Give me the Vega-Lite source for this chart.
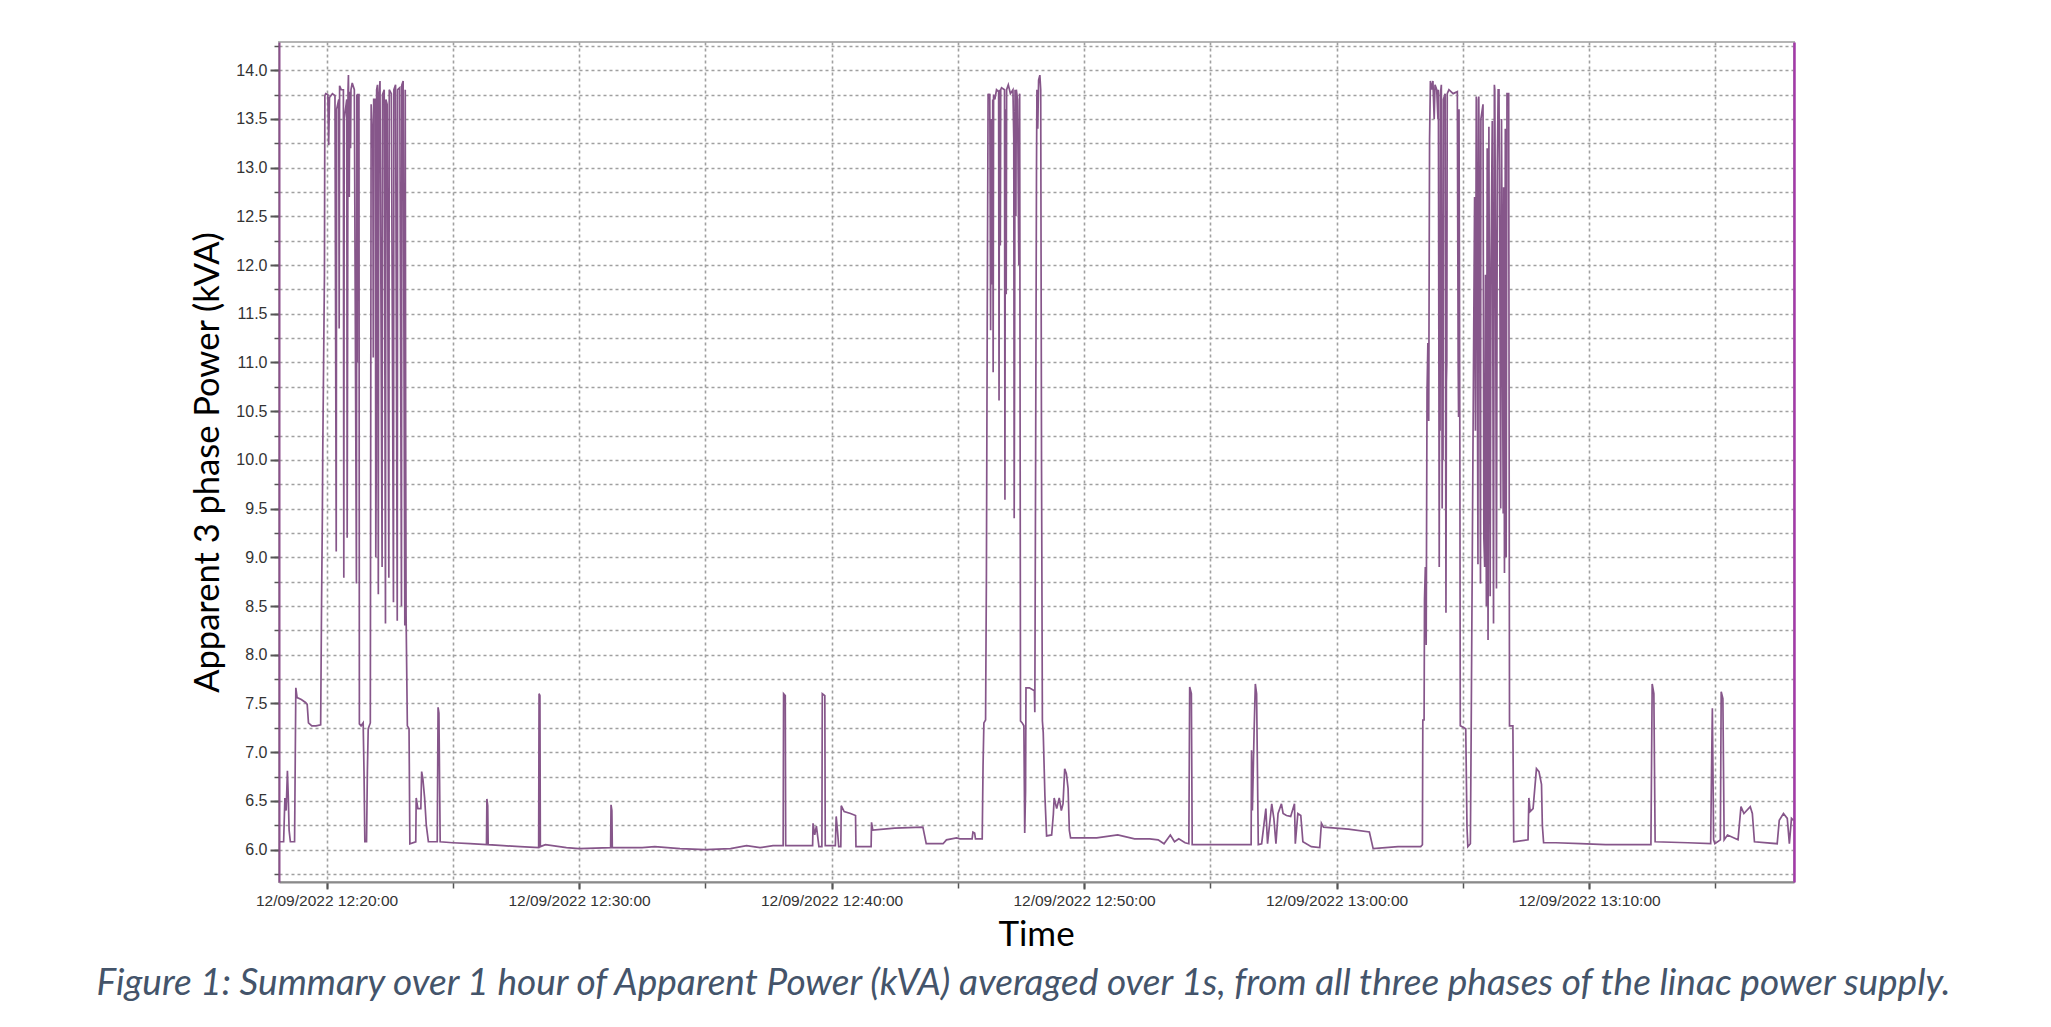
{
  "$schema": "https://vega.github.io/schema/vega-lite/v6.json",
  "description": "Apparent 3 phase power of the linac supply over one hour, 1 s averages.",
  "width": 1515,
  "height": 840,
  "autosize": {"type": "none"},
  "padding": {"left": 279, "top": 42, "right": 257, "bottom": 145},
  "background": "white",
  "title": {
    "text": "Figure 1: Summary over 1 hour of Apparent Power (kVA) averaged over 1s, from all three phases of the linac power supply.",
    "orient": "bottom",
    "anchor": "middle",
    "offset": 14,
    "dx": -13,
    "font": "Lato",
    "fontStyle": "italic",
    "fontWeight": "normal",
    "fontSize": 37,
    "color": "#44546a"
  },
  "datasets": {
    "power": [
      {"time": "2022-09-12T12:18:07", "kva": 6.08},
      {"time": "2022-09-12T12:18:18", "kva": 6.08},
      {"time": "2022-09-12T12:18:21", "kva": 6.53},
      {"time": "2022-09-12T12:18:24", "kva": 6.4},
      {"time": "2022-09-12T12:18:27", "kva": 6.81},
      {"time": "2022-09-12T12:18:29", "kva": 6.55},
      {"time": "2022-09-12T12:18:31", "kva": 6.2},
      {"time": "2022-09-12T12:18:34", "kva": 6.08},
      {"time": "2022-09-12T12:18:44", "kva": 6.08},
      {"time": "2022-09-12T12:18:47", "kva": 7.66},
      {"time": "2022-09-12T12:18:50", "kva": 7.56},
      {"time": "2022-09-12T12:19:00", "kva": 7.54},
      {"time": "2022-09-12T12:19:10", "kva": 7.51},
      {"time": "2022-09-12T12:19:14", "kva": 7.49},
      {"time": "2022-09-12T12:19:17", "kva": 7.3},
      {"time": "2022-09-12T12:19:25", "kva": 7.27},
      {"time": "2022-09-12T12:19:35", "kva": 7.27},
      {"time": "2022-09-12T12:19:46", "kva": 7.28},
      {"time": "2022-09-12T12:19:48", "kva": 8.46},
      {"time": "2022-09-12T12:19:50", "kva": 9.4},
      {"time": "2022-09-12T12:19:51", "kva": 10.1},
      {"time": "2022-09-12T12:19:53", "kva": 11.0},
      {"time": "2022-09-12T12:19:55", "kva": 11.9},
      {"time": "2022-09-12T12:19:56", "kva": 13.74},
      {"time": "2022-09-12T12:19:58", "kva": 13.76},
      {"time": "2022-09-12T12:20:03", "kva": 13.75},
      {"time": "2022-09-12T12:20:05", "kva": 13.23},
      {"time": "2022-09-12T12:20:07", "kva": 13.72},
      {"time": "2022-09-12T12:20:14", "kva": 13.76},
      {"time": "2022-09-12T12:20:20", "kva": 13.74},
      {"time": "2022-09-12T12:20:23", "kva": 9.06},
      {"time": "2022-09-12T12:20:24", "kva": 13.6},
      {"time": "2022-09-12T12:20:29", "kva": 13.7},
      {"time": "2022-09-12T12:20:30", "kva": 11.35},
      {"time": "2022-09-12T12:20:31", "kva": 13.84},
      {"time": "2022-09-12T12:20:35", "kva": 13.8},
      {"time": "2022-09-12T12:20:40", "kva": 13.8},
      {"time": "2022-09-12T12:20:41", "kva": 8.79},
      {"time": "2022-09-12T12:20:42", "kva": 13.5},
      {"time": "2022-09-12T12:20:48", "kva": 13.7},
      {"time": "2022-09-12T12:20:49", "kva": 9.2},
      {"time": "2022-09-12T12:20:50", "kva": 11.3},
      {"time": "2022-09-12T12:20:51", "kva": 13.8},
      {"time": "2022-09-12T12:20:52", "kva": 13.95},
      {"time": "2022-09-12T12:20:54", "kva": 12.7},
      {"time": "2022-09-12T12:20:55", "kva": 13.78},
      {"time": "2022-09-12T12:20:57", "kva": 13.2},
      {"time": "2022-09-12T12:20:58", "kva": 13.8},
      {"time": "2022-09-12T12:21:01", "kva": 13.87},
      {"time": "2022-09-12T12:21:06", "kva": 13.8},
      {"time": "2022-09-12T12:21:11", "kva": 8.73},
      {"time": "2022-09-12T12:21:12", "kva": 13.75},
      {"time": "2022-09-12T12:21:13", "kva": 11.0},
      {"time": "2022-09-12T12:21:14", "kva": 13.75},
      {"time": "2022-09-12T12:21:17", "kva": 13.75},
      {"time": "2022-09-12T12:21:18", "kva": 7.29},
      {"time": "2022-09-12T12:21:22", "kva": 7.27},
      {"time": "2022-09-12T12:21:27", "kva": 7.3},
      {"time": "2022-09-12T12:21:29", "kva": 6.8},
      {"time": "2022-09-12T12:21:31", "kva": 6.08},
      {"time": "2022-09-12T12:21:35", "kva": 6.08},
      {"time": "2022-09-12T12:21:37", "kva": 6.8},
      {"time": "2022-09-12T12:21:39", "kva": 7.24},
      {"time": "2022-09-12T12:21:44", "kva": 7.3},
      {"time": "2022-09-12T12:21:46", "kva": 13.65},
      {"time": "2022-09-12T12:21:50", "kva": 13.2},
      {"time": "2022-09-12T12:21:51", "kva": 11.05},
      {"time": "2022-09-12T12:21:52", "kva": 13.7},
      {"time": "2022-09-12T12:21:56", "kva": 13.7},
      {"time": "2022-09-12T12:21:57", "kva": 9.0},
      {"time": "2022-09-12T12:21:58", "kva": 9.9},
      {"time": "2022-09-12T12:21:59", "kva": 13.8},
      {"time": "2022-09-12T12:22:01", "kva": 13.85},
      {"time": "2022-09-12T12:22:03", "kva": 8.62},
      {"time": "2022-09-12T12:22:04", "kva": 13.7},
      {"time": "2022-09-12T12:22:07", "kva": 13.89},
      {"time": "2022-09-12T12:22:12", "kva": 8.9},
      {"time": "2022-09-12T12:22:13", "kva": 13.75},
      {"time": "2022-09-12T12:22:17", "kva": 13.8},
      {"time": "2022-09-12T12:22:20", "kva": 8.32},
      {"time": "2022-09-12T12:22:21", "kva": 13.7},
      {"time": "2022-09-12T12:22:24", "kva": 13.65},
      {"time": "2022-09-12T12:22:28", "kva": 8.79},
      {"time": "2022-09-12T12:22:29", "kva": 13.8},
      {"time": "2022-09-12T12:22:34", "kva": 13.76},
      {"time": "2022-09-12T12:22:39", "kva": 8.54},
      {"time": "2022-09-12T12:22:40", "kva": 13.8},
      {"time": "2022-09-12T12:22:44", "kva": 13.85},
      {"time": "2022-09-12T12:22:48", "kva": 8.35},
      {"time": "2022-09-12T12:22:49", "kva": 13.8},
      {"time": "2022-09-12T12:22:54", "kva": 13.82},
      {"time": "2022-09-12T12:22:58", "kva": 8.5},
      {"time": "2022-09-12T12:22:59", "kva": 13.85},
      {"time": "2022-09-12T12:23:02", "kva": 13.89},
      {"time": "2022-09-12T12:23:06", "kva": 8.3},
      {"time": "2022-09-12T12:23:07", "kva": 13.8},
      {"time": "2022-09-12T12:23:08", "kva": 10.3},
      {"time": "2022-09-12T12:23:09", "kva": 8.4},
      {"time": "2022-09-12T12:23:12", "kva": 7.27},
      {"time": "2022-09-12T12:23:16", "kva": 7.24},
      {"time": "2022-09-12T12:23:18", "kva": 6.06},
      {"time": "2022-09-12T12:23:32", "kva": 6.08},
      {"time": "2022-09-12T12:23:33", "kva": 6.53},
      {"time": "2022-09-12T12:23:37", "kva": 6.42},
      {"time": "2022-09-12T12:23:44", "kva": 6.42},
      {"time": "2022-09-12T12:23:46", "kva": 6.8},
      {"time": "2022-09-12T12:23:49", "kva": 6.72},
      {"time": "2022-09-12T12:23:53", "kva": 6.53},
      {"time": "2022-09-12T12:23:57", "kva": 6.25},
      {"time": "2022-09-12T12:24:02", "kva": 6.08},
      {"time": "2022-09-12T12:24:23", "kva": 6.08},
      {"time": "2022-09-12T12:24:25", "kva": 7.46},
      {"time": "2022-09-12T12:24:27", "kva": 7.4},
      {"time": "2022-09-12T12:24:30", "kva": 6.08},
      {"time": "2022-09-12T12:25:00", "kva": 6.07},
      {"time": "2022-09-12T12:25:41", "kva": 6.06},
      {"time": "2022-09-12T12:26:20", "kva": 6.05},
      {"time": "2022-09-12T12:26:21", "kva": 6.52},
      {"time": "2022-09-12T12:26:23", "kva": 6.45},
      {"time": "2022-09-12T12:26:24", "kva": 6.05},
      {"time": "2022-09-12T12:27:00", "kva": 6.04},
      {"time": "2022-09-12T12:27:40", "kva": 6.03},
      {"time": "2022-09-12T12:28:24", "kva": 6.02},
      {"time": "2022-09-12T12:28:25", "kva": 7.6},
      {"time": "2022-09-12T12:28:27", "kva": 7.58},
      {"time": "2022-09-12T12:28:28", "kva": 6.03},
      {"time": "2022-09-12T12:28:40", "kva": 6.05},
      {"time": "2022-09-12T12:29:30", "kva": 6.02},
      {"time": "2022-09-12T12:30:00", "kva": 6.01},
      {"time": "2022-09-12T12:31:15", "kva": 6.02},
      {"time": "2022-09-12T12:31:16", "kva": 6.46},
      {"time": "2022-09-12T12:31:18", "kva": 6.4},
      {"time": "2022-09-12T12:31:19", "kva": 6.02},
      {"time": "2022-09-12T12:32:30", "kva": 6.02},
      {"time": "2022-09-12T12:33:00", "kva": 6.03},
      {"time": "2022-09-12T12:34:00", "kva": 6.01},
      {"time": "2022-09-12T12:35:00", "kva": 6.0},
      {"time": "2022-09-12T12:36:00", "kva": 6.01},
      {"time": "2022-09-12T12:36:38", "kva": 6.04},
      {"time": "2022-09-12T12:37:10", "kva": 6.02},
      {"time": "2022-09-12T12:37:41", "kva": 6.04},
      {"time": "2022-09-12T12:38:05", "kva": 6.04},
      {"time": "2022-09-12T12:38:06", "kva": 7.6},
      {"time": "2022-09-12T12:38:10", "kva": 7.58},
      {"time": "2022-09-12T12:38:11", "kva": 6.04},
      {"time": "2022-09-12T12:38:40", "kva": 6.04},
      {"time": "2022-09-12T12:39:15", "kva": 6.04},
      {"time": "2022-09-12T12:39:16", "kva": 6.27},
      {"time": "2022-09-12T12:39:20", "kva": 6.15},
      {"time": "2022-09-12T12:39:24", "kva": 6.24},
      {"time": "2022-09-12T12:39:30", "kva": 6.03},
      {"time": "2022-09-12T12:39:37", "kva": 6.03},
      {"time": "2022-09-12T12:39:38", "kva": 7.6},
      {"time": "2022-09-12T12:39:44", "kva": 7.58},
      {"time": "2022-09-12T12:39:45", "kva": 6.04},
      {"time": "2022-09-12T12:40:09", "kva": 6.04},
      {"time": "2022-09-12T12:40:11", "kva": 6.34},
      {"time": "2022-09-12T12:40:14", "kva": 6.2},
      {"time": "2022-09-12T12:40:17", "kva": 6.03},
      {"time": "2022-09-12T12:40:22", "kva": 6.03},
      {"time": "2022-09-12T12:40:23", "kva": 6.45},
      {"time": "2022-09-12T12:40:30", "kva": 6.39},
      {"time": "2022-09-12T12:40:45", "kva": 6.37},
      {"time": "2022-09-12T12:40:57", "kva": 6.35},
      {"time": "2022-09-12T12:40:58", "kva": 6.03},
      {"time": "2022-09-12T12:41:34", "kva": 6.03},
      {"time": "2022-09-12T12:41:35", "kva": 6.28},
      {"time": "2022-09-12T12:41:38", "kva": 6.2},
      {"time": "2022-09-12T12:42:30", "kva": 6.22},
      {"time": "2022-09-12T12:43:37", "kva": 6.23},
      {"time": "2022-09-12T12:43:45", "kva": 6.06},
      {"time": "2022-09-12T12:44:25", "kva": 6.06},
      {"time": "2022-09-12T12:44:33", "kva": 6.1},
      {"time": "2022-09-12T12:44:57", "kva": 6.12},
      {"time": "2022-09-12T12:45:05", "kva": 6.11},
      {"time": "2022-09-12T12:45:34", "kva": 6.11},
      {"time": "2022-09-12T12:45:36", "kva": 6.18},
      {"time": "2022-09-12T12:45:40", "kva": 6.17},
      {"time": "2022-09-12T12:45:42", "kva": 6.11},
      {"time": "2022-09-12T12:45:58", "kva": 6.11},
      {"time": "2022-09-12T12:46:00", "kva": 6.86},
      {"time": "2022-09-12T12:46:02", "kva": 7.3},
      {"time": "2022-09-12T12:46:06", "kva": 7.33},
      {"time": "2022-09-12T12:46:08", "kva": 8.84},
      {"time": "2022-09-12T12:46:10", "kva": 11.5},
      {"time": "2022-09-12T12:46:12", "kva": 13.76},
      {"time": "2022-09-12T12:46:14", "kva": 13.72},
      {"time": "2022-09-12T12:46:16", "kva": 13.76},
      {"time": "2022-09-12T12:46:18", "kva": 11.33},
      {"time": "2022-09-12T12:46:19", "kva": 13.5},
      {"time": "2022-09-12T12:46:21", "kva": 12.5},
      {"time": "2022-09-12T12:46:22", "kva": 11.8},
      {"time": "2022-09-12T12:46:23", "kva": 13.7},
      {"time": "2022-09-12T12:46:24", "kva": 10.9},
      {"time": "2022-09-12T12:46:25", "kva": 13.75},
      {"time": "2022-09-12T12:46:28", "kva": 13.7},
      {"time": "2022-09-12T12:46:32", "kva": 13.8},
      {"time": "2022-09-12T12:46:37", "kva": 13.78},
      {"time": "2022-09-12T12:46:38", "kva": 10.61},
      {"time": "2022-09-12T12:46:39", "kva": 13.8},
      {"time": "2022-09-12T12:46:41", "kva": 12.2},
      {"time": "2022-09-12T12:46:42", "kva": 13.8},
      {"time": "2022-09-12T12:46:44", "kva": 13.82},
      {"time": "2022-09-12T12:46:51", "kva": 13.8},
      {"time": "2022-09-12T12:46:52", "kva": 9.59},
      {"time": "2022-09-12T12:46:53", "kva": 13.6},
      {"time": "2022-09-12T12:46:55", "kva": 11.7},
      {"time": "2022-09-12T12:46:56", "kva": 13.8},
      {"time": "2022-09-12T12:47:00", "kva": 13.85},
      {"time": "2022-09-12T12:47:05", "kva": 13.76},
      {"time": "2022-09-12T12:47:11", "kva": 13.8},
      {"time": "2022-09-12T12:47:13", "kva": 13.3},
      {"time": "2022-09-12T12:47:14", "kva": 9.4},
      {"time": "2022-09-12T12:47:15", "kva": 11.0},
      {"time": "2022-09-12T12:47:16", "kva": 13.8},
      {"time": "2022-09-12T12:47:18", "kva": 12.5},
      {"time": "2022-09-12T12:47:19", "kva": 13.8},
      {"time": "2022-09-12T12:47:22", "kva": 13.7},
      {"time": "2022-09-12T12:47:25", "kva": 12.0},
      {"time": "2022-09-12T12:47:27", "kva": 13.76},
      {"time": "2022-09-12T12:47:29", "kva": 7.32},
      {"time": "2022-09-12T12:47:33", "kva": 7.3},
      {"time": "2022-09-12T12:47:37", "kva": 7.27},
      {"time": "2022-09-12T12:47:39", "kva": 6.17},
      {"time": "2022-09-12T12:47:41", "kva": 6.6},
      {"time": "2022-09-12T12:47:42", "kva": 7.66},
      {"time": "2022-09-12T12:47:50", "kva": 7.66},
      {"time": "2022-09-12T12:48:02", "kva": 7.63},
      {"time": "2022-09-12T12:48:03", "kva": 7.41},
      {"time": "2022-09-12T12:48:05", "kva": 10.1},
      {"time": "2022-09-12T12:48:07", "kva": 13.0},
      {"time": "2022-09-12T12:48:08", "kva": 13.8},
      {"time": "2022-09-12T12:48:10", "kva": 13.4},
      {"time": "2022-09-12T12:48:12", "kva": 13.9},
      {"time": "2022-09-12T12:48:15", "kva": 13.95},
      {"time": "2022-09-12T12:48:17", "kva": 13.8},
      {"time": "2022-09-12T12:48:19", "kva": 9.89},
      {"time": "2022-09-12T12:48:21", "kva": 7.32},
      {"time": "2022-09-12T12:48:23", "kva": 7.2},
      {"time": "2022-09-12T12:48:27", "kva": 6.55},
      {"time": "2022-09-12T12:48:31", "kva": 6.14},
      {"time": "2022-09-12T12:48:43", "kva": 6.15},
      {"time": "2022-09-12T12:48:47", "kva": 6.36},
      {"time": "2022-09-12T12:48:49", "kva": 6.53},
      {"time": "2022-09-12T12:48:55", "kva": 6.42},
      {"time": "2022-09-12T12:49:01", "kva": 6.53},
      {"time": "2022-09-12T12:49:06", "kva": 6.4},
      {"time": "2022-09-12T12:49:10", "kva": 6.47},
      {"time": "2022-09-12T12:49:14", "kva": 6.83},
      {"time": "2022-09-12T12:49:18", "kva": 6.78},
      {"time": "2022-09-12T12:49:22", "kva": 6.63},
      {"time": "2022-09-12T12:49:25", "kva": 6.2},
      {"time": "2022-09-12T12:49:28", "kva": 6.12},
      {"time": "2022-09-12T12:50:30", "kva": 6.12},
      {"time": "2022-09-12T12:51:20", "kva": 6.15},
      {"time": "2022-09-12T12:52:00", "kva": 6.11},
      {"time": "2022-09-12T12:52:36", "kva": 6.11},
      {"time": "2022-09-12T12:52:56", "kva": 6.1},
      {"time": "2022-09-12T12:53:10", "kva": 6.06},
      {"time": "2022-09-12T12:53:25", "kva": 6.15},
      {"time": "2022-09-12T12:53:35", "kva": 6.08},
      {"time": "2022-09-12T12:53:45", "kva": 6.11},
      {"time": "2022-09-12T12:54:00", "kva": 6.07},
      {"time": "2022-09-12T12:54:09", "kva": 6.06},
      {"time": "2022-09-12T12:54:11", "kva": 7.67},
      {"time": "2022-09-12T12:54:15", "kva": 7.6},
      {"time": "2022-09-12T12:54:17", "kva": 6.05},
      {"time": "2022-09-12T12:55:30", "kva": 6.05},
      {"time": "2022-09-12T12:56:37", "kva": 6.05},
      {"time": "2022-09-12T12:56:38", "kva": 7.02},
      {"time": "2022-09-12T12:56:40", "kva": 6.4},
      {"time": "2022-09-12T12:56:44", "kva": 7.2},
      {"time": "2022-09-12T12:56:47", "kva": 7.7},
      {"time": "2022-09-12T12:56:50", "kva": 7.6},
      {"time": "2022-09-12T12:56:54", "kva": 6.05},
      {"time": "2022-09-12T12:57:02", "kva": 6.06},
      {"time": "2022-09-12T12:57:12", "kva": 6.42},
      {"time": "2022-09-12T12:57:16", "kva": 6.06},
      {"time": "2022-09-12T12:57:26", "kva": 6.47},
      {"time": "2022-09-12T12:57:31", "kva": 6.32},
      {"time": "2022-09-12T12:57:36", "kva": 6.06},
      {"time": "2022-09-12T12:57:41", "kva": 6.37},
      {"time": "2022-09-12T12:57:49", "kva": 6.47},
      {"time": "2022-09-12T12:57:53", "kva": 6.37},
      {"time": "2022-09-12T12:58:01", "kva": 6.35},
      {"time": "2022-09-12T12:58:11", "kva": 6.34},
      {"time": "2022-09-12T12:58:20", "kva": 6.47},
      {"time": "2022-09-12T12:58:22", "kva": 6.06},
      {"time": "2022-09-12T12:58:28", "kva": 6.37},
      {"time": "2022-09-12T12:58:35", "kva": 6.35},
      {"time": "2022-09-12T12:58:40", "kva": 6.08},
      {"time": "2022-09-12T12:59:00", "kva": 6.03},
      {"time": "2022-09-12T12:59:20", "kva": 6.02},
      {"time": "2022-09-12T12:59:24", "kva": 6.27},
      {"time": "2022-09-12T12:59:29", "kva": 6.23},
      {"time": "2022-09-12T13:00:28", "kva": 6.21},
      {"time": "2022-09-12T13:01:18", "kva": 6.18},
      {"time": "2022-09-12T13:01:27", "kva": 6.01},
      {"time": "2022-09-12T13:02:26", "kva": 6.03},
      {"time": "2022-09-12T13:03:20", "kva": 6.03},
      {"time": "2022-09-12T13:03:24", "kva": 6.05},
      {"time": "2022-09-12T13:03:25", "kva": 7.33},
      {"time": "2022-09-12T13:03:28", "kva": 7.33},
      {"time": "2022-09-12T13:03:29", "kva": 8.57},
      {"time": "2022-09-12T13:03:31", "kva": 8.9},
      {"time": "2022-09-12T13:03:33", "kva": 8.1},
      {"time": "2022-09-12T13:03:35", "kva": 10.7},
      {"time": "2022-09-12T13:03:37", "kva": 11.2},
      {"time": "2022-09-12T13:03:39", "kva": 10.4},
      {"time": "2022-09-12T13:03:41", "kva": 13.29},
      {"time": "2022-09-12T13:03:43", "kva": 13.89},
      {"time": "2022-09-12T13:03:46", "kva": 13.8},
      {"time": "2022-09-12T13:03:49", "kva": 13.89},
      {"time": "2022-09-12T13:03:52", "kva": 13.5},
      {"time": "2022-09-12T13:03:54", "kva": 13.85},
      {"time": "2022-09-12T13:03:58", "kva": 13.8},
      {"time": "2022-09-12T13:04:01", "kva": 13.5},
      {"time": "2022-09-12T13:04:02", "kva": 13.8},
      {"time": "2022-09-12T13:04:04", "kva": 8.9},
      {"time": "2022-09-12T13:04:05", "kva": 12.0},
      {"time": "2022-09-12T13:04:06", "kva": 10.3},
      {"time": "2022-09-12T13:04:07", "kva": 13.76},
      {"time": "2022-09-12T13:04:09", "kva": 13.85},
      {"time": "2022-09-12T13:04:11", "kva": 9.5},
      {"time": "2022-09-12T13:04:12", "kva": 11.1},
      {"time": "2022-09-12T13:04:13", "kva": 10.0},
      {"time": "2022-09-12T13:04:14", "kva": 13.7},
      {"time": "2022-09-12T13:04:18", "kva": 13.76},
      {"time": "2022-09-12T13:04:20", "kva": 8.43},
      {"time": "2022-09-12T13:04:21", "kva": 10.8},
      {"time": "2022-09-12T13:04:22", "kva": 11.0},
      {"time": "2022-09-12T13:04:23", "kva": 13.76},
      {"time": "2022-09-12T13:04:27", "kva": 13.8},
      {"time": "2022-09-12T13:04:37", "kva": 13.76},
      {"time": "2022-09-12T13:04:47", "kva": 13.78},
      {"time": "2022-09-12T13:04:49", "kva": 11.0},
      {"time": "2022-09-12T13:04:50", "kva": 10.44},
      {"time": "2022-09-12T13:04:51", "kva": 13.6},
      {"time": "2022-09-12T13:04:53", "kva": 10.2},
      {"time": "2022-09-12T13:04:54", "kva": 7.27},
      {"time": "2022-09-12T13:05:07", "kva": 7.24},
      {"time": "2022-09-12T13:05:10", "kva": 6.22},
      {"time": "2022-09-12T13:05:12", "kva": 6.03},
      {"time": "2022-09-12T13:05:18", "kva": 6.06},
      {"time": "2022-09-12T13:05:20", "kva": 7.27},
      {"time": "2022-09-12T13:05:24", "kva": 10.0},
      {"time": "2022-09-12T13:05:28", "kva": 12.7},
      {"time": "2022-09-12T13:05:30", "kva": 10.3},
      {"time": "2022-09-12T13:05:32", "kva": 13.73},
      {"time": "2022-09-12T13:05:34", "kva": 12.0},
      {"time": "2022-09-12T13:05:36", "kva": 8.93},
      {"time": "2022-09-12T13:05:37", "kva": 13.7},
      {"time": "2022-09-12T13:05:38", "kva": 13.73},
      {"time": "2022-09-12T13:05:40", "kva": 11.9},
      {"time": "2022-09-12T13:05:42", "kva": 8.73},
      {"time": "2022-09-12T13:05:43", "kva": 13.5},
      {"time": "2022-09-12T13:05:48", "kva": 13.65},
      {"time": "2022-09-12T13:05:50", "kva": 9.2},
      {"time": "2022-09-12T13:05:52", "kva": 8.9},
      {"time": "2022-09-12T13:05:54", "kva": 11.9},
      {"time": "2022-09-12T13:05:56", "kva": 8.5},
      {"time": "2022-09-12T13:05:58", "kva": 13.2},
      {"time": "2022-09-12T13:06:00", "kva": 8.15},
      {"time": "2022-09-12T13:06:02", "kva": 13.42},
      {"time": "2022-09-12T13:06:05", "kva": 8.6},
      {"time": "2022-09-12T13:06:07", "kva": 12.0},
      {"time": "2022-09-12T13:06:10", "kva": 13.48},
      {"time": "2022-09-12T13:06:13", "kva": 8.32},
      {"time": "2022-09-12T13:06:15", "kva": 13.85},
      {"time": "2022-09-12T13:06:16", "kva": 13.8},
      {"time": "2022-09-12T13:06:18", "kva": 12.0},
      {"time": "2022-09-12T13:06:20", "kva": 8.68},
      {"time": "2022-09-12T13:06:22", "kva": 13.0},
      {"time": "2022-09-12T13:06:24", "kva": 13.8},
      {"time": "2022-09-12T13:06:26", "kva": 13.8},
      {"time": "2022-09-12T13:06:28", "kva": 12.0},
      {"time": "2022-09-12T13:06:30", "kva": 9.5},
      {"time": "2022-09-12T13:06:32", "kva": 13.5},
      {"time": "2022-09-12T13:06:36", "kva": 9.45},
      {"time": "2022-09-12T13:06:37", "kva": 12.8},
      {"time": "2022-09-12T13:06:39", "kva": 8.84},
      {"time": "2022-09-12T13:06:41", "kva": 13.4},
      {"time": "2022-09-12T13:06:43", "kva": 9.0},
      {"time": "2022-09-12T13:06:45", "kva": 13.76},
      {"time": "2022-09-12T13:06:49", "kva": 13.76},
      {"time": "2022-09-12T13:06:51", "kva": 7.27},
      {"time": "2022-09-12T13:06:59", "kva": 7.27},
      {"time": "2022-09-12T13:07:01", "kva": 6.08},
      {"time": "2022-09-12T13:07:35", "kva": 6.1},
      {"time": "2022-09-12T13:07:37", "kva": 6.53},
      {"time": "2022-09-12T13:07:40", "kva": 6.39},
      {"time": "2022-09-12T13:07:47", "kva": 6.42},
      {"time": "2022-09-12T13:07:55", "kva": 6.83},
      {"time": "2022-09-12T13:08:01", "kva": 6.8},
      {"time": "2022-09-12T13:08:07", "kva": 6.67},
      {"time": "2022-09-12T13:08:09", "kva": 6.25},
      {"time": "2022-09-12T13:08:12", "kva": 6.07},
      {"time": "2022-09-12T13:08:41", "kva": 6.07},
      {"time": "2022-09-12T13:09:40", "kva": 6.06},
      {"time": "2022-09-12T13:10:39", "kva": 6.05},
      {"time": "2022-09-12T13:11:30", "kva": 6.05},
      {"time": "2022-09-12T13:12:27", "kva": 6.05},
      {"time": "2022-09-12T13:12:30", "kva": 7.7},
      {"time": "2022-09-12T13:12:34", "kva": 7.6},
      {"time": "2022-09-12T13:12:37", "kva": 6.08},
      {"time": "2022-09-12T13:13:55", "kva": 6.07},
      {"time": "2022-09-12T13:14:49", "kva": 6.06},
      {"time": "2022-09-12T13:14:51", "kva": 6.8},
      {"time": "2022-09-12T13:14:53", "kva": 7.45},
      {"time": "2022-09-12T13:14:56", "kva": 6.1},
      {"time": "2022-09-12T13:14:59", "kva": 6.06},
      {"time": "2022-09-12T13:15:12", "kva": 6.1},
      {"time": "2022-09-12T13:15:14", "kva": 7.62},
      {"time": "2022-09-12T13:15:18", "kva": 7.55},
      {"time": "2022-09-12T13:15:21", "kva": 6.1},
      {"time": "2022-09-12T13:15:29", "kva": 6.15},
      {"time": "2022-09-12T13:15:54", "kva": 6.1},
      {"time": "2022-09-12T13:16:01", "kva": 6.44},
      {"time": "2022-09-12T13:16:08", "kva": 6.37},
      {"time": "2022-09-12T13:16:23", "kva": 6.44},
      {"time": "2022-09-12T13:16:28", "kva": 6.37},
      {"time": "2022-09-12T13:16:33", "kva": 6.08},
      {"time": "2022-09-12T13:17:27", "kva": 6.06},
      {"time": "2022-09-12T13:17:32", "kva": 6.3},
      {"time": "2022-09-12T13:17:42", "kva": 6.37},
      {"time": "2022-09-12T13:17:51", "kva": 6.32},
      {"time": "2022-09-12T13:17:56", "kva": 6.06},
      {"time": "2022-09-12T13:18:01", "kva": 6.32},
      {"time": "2022-09-12T13:18:06", "kva": 6.3}
    ]
  },
  "layer": [
    {
      "data": {"name": "power"},
      "mark": {"type": "line", "strokeOpacity": 0},
      "encoding": {
        "x": {
          "field": "time",
          "type": "temporal",
          "scale": {"domain": [
            {"year": 2022, "month": 9, "date": 12, "hours": 12, "minutes": 18, "seconds": 7},
            {"year": 2022, "month": 9, "date": 12, "hours": 13, "minutes": 18, "seconds": 7}
          ]},
          "axis": {
            "orient": "bottom",
            "values": [
              {"year": 2022, "month": 9, "date": 12, "hours": 12, "minutes": 20},
              {"year": 2022, "month": 9, "date": 12, "hours": 12, "minutes": 25},
              {"year": 2022, "month": 9, "date": 12, "hours": 12, "minutes": 30},
              {"year": 2022, "month": 9, "date": 12, "hours": 12, "minutes": 35},
              {"year": 2022, "month": 9, "date": 12, "hours": 12, "minutes": 40},
              {"year": 2022, "month": 9, "date": 12, "hours": 12, "minutes": 45},
              {"year": 2022, "month": 9, "date": 12, "hours": 12, "minutes": 50},
              {"year": 2022, "month": 9, "date": 12, "hours": 12, "minutes": 55},
              {"year": 2022, "month": 9, "date": 12, "hours": 13, "minutes": 0},
              {"year": 2022, "month": 9, "date": 12, "hours": 13, "minutes": 5},
              {"year": 2022, "month": 9, "date": 12, "hours": 13, "minutes": 10},
              {"year": 2022, "month": 9, "date": 12, "hours": 13, "minutes": 15}
            ],
            "grid": true,
            "gridColor": "#a0a0a0",
            "gridDash": [3, 3],
            "gridWidth": 1.6,
            "labels": false,
            "ticks": true,
            "tickSize": 6,
            "tickWidth": 1.5,
            "tickColor": "#555555",
            "domain": false,
            "title": null
          }
        },
        "y": {
          "field": "kva",
          "type": "quantitative",
          "scale": {"domain": [5.667, 14.29], "nice": false, "zero": false},
          "axis": {
            "orient": "left",
            "values": [5.75, 6.0, 6.25, 6.5, 6.75, 7.0, 7.25, 7.5, 7.75, 8.0, 8.25, 8.5, 8.75, 9.0, 9.25, 9.5, 9.75, 10.0, 10.25, 10.5, 10.75, 11.0, 11.25, 11.5, 11.75, 12.0, 12.25, 12.5, 12.75, 13.0, 13.25, 13.5, 13.75, 14.0, 14.25],
            "grid": true,
            "gridColor": "#a0a0a0",
            "gridDash": [3, 3],
            "gridWidth": 1.6,
            "labels": false,
            "ticks": true,
            "tickSize": 5,
            "tickWidth": 1.5,
            "tickColor": "#555555",
            "domain": false,
            "title": null
          }
        }
      }
    },
    {
      "data": {"name": "power"},
      "mark": {"type": "line", "strokeOpacity": 0},
      "encoding": {
        "x": {"field": "time", "type": "temporal", "axis": null},
        "y": {
          "field": "kva",
          "type": "quantitative",
          "axis": {
            "orient": "right",
            "grid": false,
            "labels": false,
            "ticks": false,
            "domain": true,
            "domainColor": "#a33aa8",
            "domainWidth": 2.5,
            "title": null
          }
        }
      }
    },
    {
      "data": {"name": "power"},
      "mark": {"type": "line", "color": "#86568a", "strokeWidth": 1.7},
      "encoding": {
        "x": {
          "field": "time",
          "type": "temporal",
          "axis": {
            "orient": "bottom",
            "values": [
              {"year": 2022, "month": 9, "date": 12, "hours": 12, "minutes": 20},
              {"year": 2022, "month": 9, "date": 12, "hours": 12, "minutes": 30},
              {"year": 2022, "month": 9, "date": 12, "hours": 12, "minutes": 40},
              {"year": 2022, "month": 9, "date": 12, "hours": 12, "minutes": 50},
              {"year": 2022, "month": 9, "date": 12, "hours": 13, "minutes": 0},
              {"year": 2022, "month": 9, "date": 12, "hours": 13, "minutes": 10}
            ],
            "labelExpr": "timeFormat(datum.value, '%d/%m/%Y %H:%M:%S')",
            "grid": false,
            "ticks": true,
            "tickSize": 7,
            "tickWidth": 2,
            "tickColor": "#555555",
            "labelFont": "Liberation Sans Narrow, Liberation Sans, Arial",
            "labelFontSize": 15.5,
            "labelColor": "#333333",
            "labelPadding": 4,
            "labelFlush": false,
            "labelOverlap": false,
            "domain": true,
            "domainColor": "#8a8a8a",
            "domainWidth": 2,
            "title": "Time",
            "titleFont": "Lato",
            "titleFontSize": 35,
            "titleFontWeight": "normal",
            "titleColor": "#000000",
            "titleX": 757,
            "titleY": 52,
            "titleBaseline": "middle"
          }
        },
        "y": {
          "field": "kva",
          "type": "quantitative",
          "axis": {
            "orient": "left",
            "values": [6.0, 6.5, 7.0, 7.5, 8.0, 8.5, 9.0, 9.5, 10.0, 10.5, 11.0, 11.5, 12.0, 12.5, 13.0, 13.5, 14.0],
            "format": ".1f",
            "grid": false,
            "ticks": true,
            "tickSize": 9,
            "tickWidth": 2,
            "tickColor": "#555555",
            "labelFont": "Liberation Sans Narrow, Liberation Sans, Arial",
            "labelFontSize": 16,
            "labelColor": "#333333",
            "labelPadding": 3,
            "labelOverlap": false,
            "domain": true,
            "domainColor": "#8c4f8c",
            "domainWidth": 2,
            "title": "Apparent 3 phase Power (kVA)",
            "titleFont": "Lato",
            "titleFontSize": 34.5,
            "titleFontWeight": "normal",
            "titleColor": "#000000",
            "titleAngle": -90,
            "titleX": -71,
            "titleY": 420,
            "titleAlign": "center",
            "titleBaseline": "middle"
          }
        }
      }
    }
  ],
  "resolve": {"axis": {"x": "independent", "y": "independent"}},
  "config": {
    "view": {"stroke": "#b5b5b5", "strokeWidth": 2}
  }
}
